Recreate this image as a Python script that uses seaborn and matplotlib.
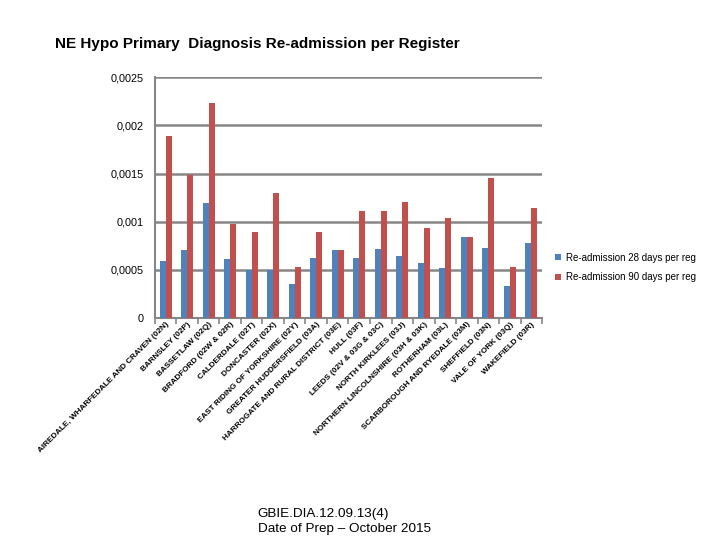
import numpy as np
import pandas as pd
import seaborn as sns
import matplotlib.pyplot as plt
from matplotlib.ticker import FuncFormatter, FixedLocator

# Data
registers = [
    'AIREDALE, WHARFEDALE AND CRAVEN (02N)',
    'BARNSLEY (02P)',
    'BASSETLAW (02Q)',
    'BRADFORD (02W & 02R)',
    'CALDERDALE (02T)',
    'DONCASTER (02X)',
    'EAST RIDING OF YORKSHIRE (02Y)',
    'GREATER HUDDERSFIELD (03A)',
    'HARROGATE AND RURAL DISTRICT (03E)',
    'HULL (03F)',
    'LEEDS (02V & 03G & 03C)',
    'NORTH KIRKLEES (03J)',
    'NORTHERN LINCOLNSHIRE (03H & 03K)',
    'ROTHERHAM (03L)',
    'SCARBOROUGH AND RYEDALE (03M)',
    'SHEFFIELD (03N)',
    'VALE OF YORK (03Q)',
    'WAKEFIELD (03R)',
]
readm_28 = [0.000588, 0.000702, 0.00119, 0.000609, 0.000502, 0.000495, 0.00035,
            0.000619, 0.000702, 0.000619, 0.000713, 0.00064, 0.000567, 0.000516,
            0.000837, 0.000723, 0.000329, 0.000775]
readm_90 = [0.001885, 0.00148, 0.00223, 0.000972, 0.000889, 0.001297, 0.000526,
            0.000889, 0.000702, 0.001107, 0.001107, 0.0012, 0.00093, 0.001034,
            0.000837, 0.00145, 0.000526, 0.001138]
series_names = ['Re-admission 28 days per reg', 'Re-admission 90 days per reg']

df = pd.DataFrame({
    'register': registers * 2,
    'value': readm_28 + readm_90,
    'series': [series_names[0]] * len(registers) + [series_names[1]] * len(registers),
})

plt.rcParams['font.family'] = ['Liberation Sans', 'DejaVu Sans']

fig = plt.figure(figsize=(7.2, 5.4), dpi=100)
ax = fig.add_axes([0.215, 0.411, 0.538, 0.446])

sns.barplot(data=df, x='register', y='value', hue='series',
            palette=['#4F81BD', '#C0504D'], width=0.56, gap=0.0,
            saturation=1, ax=ax, zorder=3)

# Axes styling (Excel look)
ax.set_ylim(0, 0.0025)
ax.set_yticks(np.arange(0, 0.00251, 0.0005))
ax.yaxis.set_major_formatter(FuncFormatter(
    lambda v, p: '0' if v == 0 else ('%g' % round(v, 5)).replace('.', ',')))
ax.grid(axis='y', color='#868686', linewidth=1.8, zorder=0)
ax.set_axisbelow(True)
for s in ['top', 'right']:
    ax.spines[s].set_visible(False)
for s in ['left', 'bottom']:
    ax.spines[s].set_color('#868686')
    ax.spines[s].set_linewidth(1.5)
ax.tick_params(axis='y', length=0, labelsize=7.8, pad=8)
ax.set_xlim(-0.5, len(registers) - 0.5)
ax.xaxis.set_minor_locator(FixedLocator(np.arange(-0.5, len(registers), 1)))
ax.tick_params(axis='x', which='major', length=0, labelsize=5.9, pad=2)
ax.tick_params(axis='x', which='minor', length=4, width=1.2, color='#868686', direction='out')
ax.set_xticks(range(len(registers)))
ax.set_xticklabels(registers, rotation=45, ha='right', rotation_mode='anchor',
                   fontweight='bold')
ax.set_xlabel('')
ax.set_ylabel('')

ax.legend(loc='center left', bbox_to_anchor=(1.01, 0.21), frameon=False,
          fontsize=7, handlelength=0.6, handleheight=0.6, handletextpad=0.6,
          labelspacing=1.0)

fig.text(0.076, 0.918, 'NE Hypo Primary  Diagnosis Re-admission per Register',
         fontsize=11, fontweight='bold', ha='left', va='center')
fig.text(0.358, 0.034, 'GBIE.DIA.12.09.13(4)\nDate of Prep \u2013 October 2015',
         fontsize=9.7, ha='left', va='center', linespacing=1.3)

fig.savefig('out.png', dpi=100)
